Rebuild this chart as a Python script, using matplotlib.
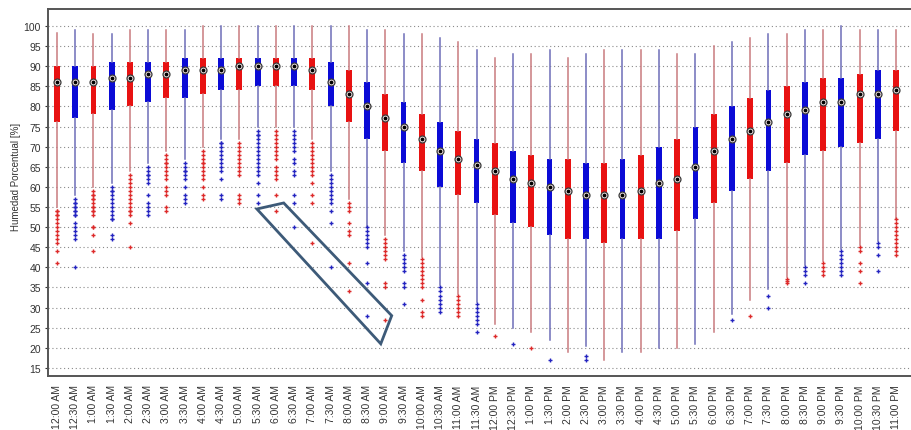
import matplotlib
matplotlib.use("Agg")
import matplotlib.pyplot as plt
from matplotlib.patches import Polygon

plt.rcParams['font.family'] = ['Liberation Sans', 'DejaVu Sans']

# ---------------- data ----------------
times = ["12:00 AM", "12:30 AM", "1:00 AM", "1:30 AM", "2:00 AM", "2:30 AM", "3:00 AM", "3:30 AM",
         "4:00 AM", "4:30 AM", "5:00 AM", "5:30 AM", "6:00 AM", "6:30 AM", "7:00 AM", "7:30 AM",
         "8:00 AM", "8:30 AM", "9:00 AM", "9:30 AM", "10:00 AM", "10:30 AM", "11:00 AM", "11:30 AM",
         "12:00 PM", "12:30 PM", "1:00 PM", "1:30 PM", "2:00 PM", "2:30 PM", "3:00 PM", "3:30 PM",
         "4:00 PM", "4:30 PM", "5:00 PM", "5:30 PM", "6:00 PM", "6:30 PM", "7:00 PM", "7:30 PM",
         "8:00 PM", "8:30 PM", "9:00 PM", "9:30 PM", "10:00 PM", "10:30 PM", "11:00 PM"]

whisker_high = [98.2, 99, 98, 98, 99, 99, 99, 99, 100, 100, 100, 100, 100, 100, 100, 100,
                100, 99, 99, 98, 98, 97, 96, 94, 92, 93, 93, 94, 92, 93, 94, 94,
                94, 94, 93, 93, 95, 96, 97, 98, 98, 99, 99, 100, 99, 99, 99]
q3 = [90, 90, 90, 91, 91, 91, 91, 92, 92, 92, 92, 92, 92, 92, 92, 91,
      89, 86, 83, 81, 78, 76, 74, 72, 71, 69, 68, 67, 67, 66, 66, 67,
      68, 70, 72, 75, 78, 80, 82, 84, 85, 86, 87, 87, 88, 89, 89]
median = [86, 86, 86, 87, 87, 88, 88, 89, 89, 89, 90, 90, 90, 90, 89, 86,
          83, 80, 77, 75, 72, 69, 67, 65.5, 64, 62, 61, 60, 59, 58, 58, 58,
          59, 61, 62, 65, 69, 72, 74, 76, 78, 79, 81, 81, 83, 83, 84]
q1 = [76, 77, 78, 79, 80, 81, 82, 82, 83, 84, 84, 85, 85, 85, 84, 80,
      76, 72, 69, 66, 64, 60, 58, 56, 53, 51, 50, 48, 47, 47, 46, 47,
      47, 47, 49, 52, 56, 59, 62, 64, 66, 68, 69, 70, 71, 72, 74]
whisker_low = [55, 58, 60, 61, 64, 66, 69, 67, 70, 72, 72, 75, 75, 75, 72, 64,
               57, 50, 48, 44, 42.5, 35.5, 33.5, 31.5, 26, 25, 24, 22, 19, 20.5, 17, 19,
               19, 20, 20, 21, 24, 28.5, 32, 34.5, 37.5, 40.5, 41.5, 44.5, 45.5, 46.5, 52]
outliers = [
    [54, 54, 53, 53, 52, 51, 50, 49, 48, 47, 46, 44, 41],
    [57, 56, 56, 55, 55, 54, 54, 53, 53, 51, 50, 49, 48, 47, 40],
    [59, 58, 58, 57, 57, 56, 55, 55, 54, 54, 53, 50, 50, 48, 44],
    [60, 59, 59, 58, 57, 56, 55, 54, 53, 52, 52, 48, 47],
    [63, 62, 61, 60, 59, 58, 57, 56, 55, 54, 54, 53, 51, 45],
    [65, 64, 63, 63, 62, 61, 58, 56, 55, 54, 53],
    [68, 67, 66, 66, 65, 64, 63, 62, 60, 59, 58, 55, 54],
    [66, 65, 64, 64, 63, 62, 60, 58, 57, 56],
    [69, 68, 67, 66, 66, 65, 64, 63, 62, 60, 58, 57],
    [71, 71, 70, 69, 68, 67, 66, 65, 64, 62, 58, 57],
    [71, 70, 69, 68, 67, 66, 65, 64, 63, 58, 57, 56],
    [74, 73, 73, 72, 71, 70, 69, 68, 67, 66, 65, 64, 63, 61, 58, 56],
    [74, 73, 72, 71, 70, 69, 68, 67, 65, 64, 63, 62, 58, 54],
    [74, 73, 72, 71, 70, 69, 67, 66, 64, 63, 58, 56, 50],
    [71, 70, 69, 68, 67, 66, 65, 64, 63, 61, 58, 56, 46],
    [63, 62, 61, 60, 59, 58, 57, 56, 54, 51, 40],
    [56, 55, 54, 51, 49, 48, 41, 34],
    [50, 49, 48, 47, 46, 45, 41, 36, 28],
    [47, 46, 45, 44, 43, 42, 36, 35, 27],
    [43, 42, 41, 40, 39, 36, 35, 31],
    [42, 41, 40, 39, 38, 37, 36, 35, 32, 29, 28],
    [35, 34, 33, 32, 31, 30, 29],
    [33, 32, 31, 30, 29, 28],
    [31, 30, 29, 28, 27, 26, 24],
    [23], [21], [20], [17], [], [18, 17], [], [],
    [], [], [], [], [], [27], [28], [33, 30],
    [37, 36.5, 36], [40, 39, 38, 36], [41, 40, 39, 38], [44, 43, 42, 41, 40, 39, 38],
    [45, 44, 41, 39, 36], [46, 45, 43, 39], [52, 51, 50, 49, 48, 47, 46, 45, 44, 43],
]
yticks = list(range(15, 101, 5))
ylabel = "Humedad Porcentual [%]"

# annotation parallelogram (data coordinates: x = slot index, y = humidity)
annot_x = [10.96, 12.43, 18.35, 17.75]
annot_y = [54.5, 56.0, 28.0, 21.0]

# ---------------- style ----------------
box_colors = ['#e81212', '#0b0bd6']
whisk_colors = ['#c97a7f', '#6e6eb8']
flier_colors = ['#dd2a2a', '#2424c0']

W, H = 911, 431
fig = plt.figure(figsize=(W / 100, H / 100), dpi=100)
ax = fig.add_axes([48 / W, 1 - 377 / H, (960 - 48) / W, 367 / H])

n = len(times)
for g in range(2):
    idx = list(range(g, n, 2))
    stats = [dict(med=median[i], q1=q1[i], q3=q3[i], whislo=whisker_low[i],
                  whishi=whisker_high[i], fliers=outliers[i]) for i in idx]
    ax.bxp(stats, positions=idx, widths=0.32, patch_artist=True, showcaps=False,
           boxprops=dict(facecolor=box_colors[g], edgecolor=box_colors[g], linewidth=0),
           whiskerprops=dict(color=whisk_colors[g], linewidth=1.1),
           medianprops=dict(visible=False),
           flierprops=dict(marker='+', markersize=3.4, markeredgewidth=1.0,
                           markeredgecolor=flier_colors[g], linestyle='none'),
           manage_ticks=False, zorder=3)

ax.plot(range(n), median, linestyle='none', marker='o', markersize=5.0,
        markerfacecolor='#f0e2e2', markeredgecolor='#3a3a3a', markeredgewidth=0.9, zorder=5)
ax.plot(range(n), median, linestyle='none', marker='o', markersize=1.7,
        color='black', zorder=6)

poly = Polygon(list(zip(annot_x, annot_y)), closed=True, fill=False,
               edgecolor='#3d5a78', linewidth=2.0, zorder=7)
ax.add_patch(poly)

ax.set_xlim(-0.49, 49.5)
ax.set_ylim(13.0, 104.2)
ax.set_yticks(yticks)
ax.set_yticklabels([str(v) for v in yticks])
ax.set_xticks(range(n))
ax.set_xticklabels(times, rotation=90, va='top', ha='center')
ax.tick_params(axis='y', direction='out', length=2, width=0.8, pad=3, labelsize=7.5,
               colors='#333333', labelcolor='#333333')
ax.tick_params(axis='x', length=0, pad=6, labelsize=7.5, labelcolor='#333333')

ax.yaxis.grid(True, linestyle=(0, (1, 2.5)), color='#8a8a8a', linewidth=0.8)
ax.set_axisbelow(True)
for s in ['left', 'top', 'bottom']:
    ax.spines[s].set_color('#555555')
    ax.spines[s].set_linewidth(1.4)
ax.spines['right'].set_visible(False)

fig.text(16 / W, 1 - 177 / H, ylabel, rotation=90, ha='center', va='center',
         fontsize=7, color='#333333')

fig.savefig('out.png', dpi=100)
